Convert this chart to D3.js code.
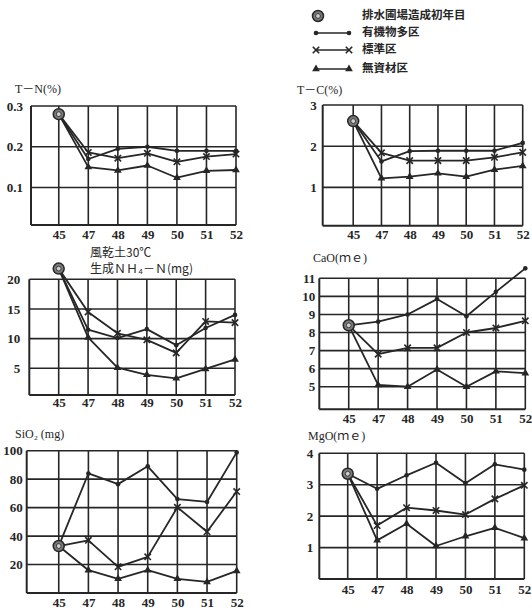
<!DOCTYPE html>
<html><head><meta charset="utf-8">
<script src="https://cdn.jsdelivr.net/npm/d3@7"></script>
<style>body{margin:0;background:#fff}svg{display:block}</style>
</head><body>
<svg id="c" width="532" height="611"></svg>
<script>
// ---------------- data ----------------
const years = ["45","47","48","49","50","51","52"];
const legendLabels = ["排水圃場造成初年目","有機物多区","標準区","無資材区"];

const tnOrganic  = [0.28, 0.170, 0.195, 0.200, 0.190, 0.190, 0.190];
const tnStandard = [0.28, 0.186, 0.172, 0.184, 0.163, 0.176, 0.182];
const tnNone     = [0.28, 0.150, 0.142, 0.154, 0.124, 0.141, 0.143];
const tnTicks = [0.1, 0.2, 0.3];

const tcOrganic  = [2.61, 1.63, 1.88, 1.89, 1.89, 1.89, 2.08];
const tcStandard = [2.61, 1.84, 1.65, 1.65, 1.65, 1.73, 1.85];
const tcNone     = [2.61, 1.22, 1.26, 1.34, 1.26, 1.43, 1.52];
const tcTicks = [1, 2, 3];

const nhOrganic  = [21.8, 11.5, 10.1, 11.6, 8.9, 11.8, 14.0];
const nhStandard = [21.8, 14.5, 10.9, 9.8, 7.6, 12.9, 12.7];
const nhNone     = [21.8, 10.2, 5.1, 3.9, 3.3, 4.9, 6.5];
const nhTicks = [5, 10, 15, 20];

const caOrganic  = [8.4, 8.6, 9.0, 9.85, 8.9, 10.25, 11.55];
const caStandard = [8.4, 6.8, 7.15, 7.15, 8.0, 8.25, 8.65];
const caNone     = [8.4, 5.1, 5.0, 5.95, 5.0, 5.85, 5.75];
const caTicks = [5, 6, 7, 8, 9, 10, 11];

const siOrganic  = [33, 84, 76.5, 89, 66, 64, 98.8];
const siStandard = [33, 37, 18.4, 25.4, 60.2, 43, 71.3];
const siNone     = [33, 16, 10, 16, 10, 7.8, 15.5];
const siTicks = [20, 40, 60, 80, 100];

const mgOrganic  = [3.35, 2.87, 3.3, 3.7, 3.05, 3.65, 3.48];
const mgStandard = [3.35, 1.7, 2.27, 2.18, 2.05, 2.55, 2.98];
const mgNone     = [3.35, 1.23, 1.76, 1.05, 1.36, 1.63, 1.3];
const mgTicks = [1, 2, 3, 4];

// ---------------- layout ----------------
const ink = "#262626";
const numFont = "'Liberation Serif','DejaVu Serif',serif";
const titleFont = "'Liberation Serif','Noto Sans CJK JP',serif";
const cjkFont = "'Noto Sans CJK JP','Noto Sans CJK SC',sans-serif";
const svg = d3.select("#c");

const panels = [
  {title:[{t:"T－N(%)", x:15, y:90, f:titleFont}], data:[tnOrganic,tnStandard,tnNone], ticks:tnTicks, fmt:d3.format(".1f"),
   left:31, right:236, top:106, bottom:225, off:0.94, y0:0.008, y1:0.3, pad:8, xpad:5},
  {title:[{t:"T－C(%)", x:297, y:91, f:titleFont}], data:[tcOrganic,tcStandard,tcNone], ticks:tcTicks, fmt:d3.format("d"),
   left:322.7, right:522.7, top:105, bottom:225.7, off:1.08, y0:0.07, y1:3, pad:6, xpad:4},
  {title:[{t:"風乾土30℃", x:90, y:254, f:cjkFont},{t:"生成ＮＨ₄－Ｎ(mg)", x:90, y:270, f:cjkFont}], data:[nhOrganic,nhStandard,nhNone], ticks:nhTicks, fmt:d3.format("d"),
   left:29.3, right:235, top:279.3, bottom:395, off:1.0, y0:0.5, y1:20, pad:9, xpad:3},
  {title:[{t:"CaO(ｍｅ)", x:313, y:259, f:titleFont}], data:[caOrganic,caStandard,caNone], ticks:caTicks, fmt:d3.format("d"),
   left:319.3, right:525.3, top:278.3, bottom:409.3, off:1.0, y0:3.75, y1:11, pad:4, xpad:4},
  {title:[{t:"SiO₂ (mg)", x:15, y:435, f:titleFont}], data:[siOrganic,siStandard,siNone], ticks:siTicks, fmt:d3.format("d"),
   left:26.7, right:236.7, top:450.7, bottom:593, off:1.08, y0:0, y1:100, pad:4, xpad:5},
  {title:[{t:"MgO(ｍｅ)", x:308, y:437, f:titleFont}], data:[mgOrganic,mgStandard,mgNone], ticks:mgTicks, fmt:d3.format("d"),
   left:319.3, right:524.3, top:453.3, bottom:579, off:0.965, y0:0, y1:4, pad:6, xpad:6}
];

const crossPath = s => `M${-s},${-s}L${s},${s}M${-s},${s}L${s},${-s}`;

function drawMarker(g, kind, x, y) {
  if (kind === 0) {
    g.append("circle").attr("cx", x).attr("cy", y).attr("r", 2.3).attr("fill", ink);
  } else if (kind === 1) {
    g.append("path").attr("d", crossPath(3.2)).attr("transform", `translate(${x},${y})`)
      .attr("stroke", ink).attr("stroke-width", 1.6).attr("fill", "none");
  } else if (kind === 2) {
    g.append("path").attr("d", d3.symbol(d3.symbolTriangle, 26)()).attr("transform", `translate(${x},${y})`)
      .attr("fill", ink);
  } else {
    g.append("circle").attr("cx", x).attr("cy", y).attr("r", 5.5).attr("fill", "#7a7a7a").attr("stroke", ink).attr("stroke-width", 1.5);
    g.append("circle").attr("cx", x).attr("cy", y).attr("r", 2.4).attr("fill", "#cfcfcf").attr("stroke", ink).attr("stroke-width", 0.8);
  }
}

panels.forEach(p => {
  const g = svg.append("g");
  const idx = d3.range(years.length);
  const xs = d3.scaleLinear().domain([-p.off, years.length - 1]).range([p.left, p.right]);
  const ys = d3.scaleLinear().domain([p.y0, p.y1]).range([p.bottom, p.top]);

  // grid
  g.selectAll(".hg").data(p.ticks).join("line")
    .attr("x1", p.left).attr("x2", p.right).attr("y1", d => ys(d)).attr("y2", d => ys(d))
    .attr("stroke", ink).attr("stroke-width", 1.6);
  g.selectAll(".vg").data(idx).join("line")
    .attr("x1", d => xs(d)).attr("x2", d => xs(d)).attr("y1", p.top).attr("y2", p.bottom)
    .attr("stroke", ink).attr("stroke-width", 1.6);
  // frame
  g.append("line").attr("x1", p.left).attr("x2", p.left).attr("y1", p.top).attr("y2", p.bottom)
    .attr("stroke", ink).attr("stroke-width", 2);
  g.append("line").attr("x1", p.left).attr("x2", p.right).attr("y1", p.bottom).attr("y2", p.bottom)
    .attr("stroke", ink).attr("stroke-width", 2);

  // axes
  const ya = g.append("g").attr("transform", `translate(${p.left},0)`)
    .call(d3.axisLeft(ys).tickValues(p.ticks).tickSize(0).tickPadding(p.pad).tickFormat(p.fmt));
  ya.select(".domain").remove();
  ya.selectAll("text").attr("font-family", numFont).attr("font-weight", "bold").attr("font-size", 13).attr("fill", ink);

  const xa = g.append("g").attr("transform", `translate(0,${p.bottom})`)
    .call(d3.axisBottom(xs).tickValues(idx).tickSize(0).tickPadding(p.xpad).tickFormat(i => years[i]));
  xa.select(".domain").remove();
  xa.selectAll("text").attr("font-family", numFont).attr("font-weight", "bold").attr("font-size", 13).attr("fill", ink);

  // titles
  p.title.forEach(t => {
    g.append("text").attr("x", t.x).attr("y", t.y).attr("dominant-baseline", "middle")
      .attr("font-family", t.f).attr("font-size", 12).attr("fill", ink).text(t.t);
  });

  // series
  const line = d3.line().x((d, i) => xs(i)).y(d => ys(d));
  p.data.forEach((s, k) => {
    g.append("path").datum(s).attr("d", line).attr("fill", "none")
      .attr("stroke", ink).attr("stroke-width", 1.8).attr("stroke-linejoin", "round");
    s.forEach((v, i) => { if (i > 0) drawMarker(g, k, xs(i), ys(v)); });
  });
  drawMarker(g, 3, xs(0), ys(p.data[0][0]));
});

// legend
const lg = svg.append("g");
const legY = [16, 33, 50, 69];
drawMarker(lg, 3, 318, legY[0]);
[0, 1, 2].forEach(k => {
  lg.append("line").attr("x1", 316).attr("x2", 349).attr("y1", legY[k+1]).attr("y2", legY[k+1])
    .attr("stroke", ink).attr("stroke-width", 1.4);
  drawMarker(lg, k, 316, legY[k+1]);
  drawMarker(lg, k, 349, legY[k+1]);
});
legendLabels.forEach((t, i) => {
  lg.append("text").attr("x", 362).attr("y", legY[i]).attr("dominant-baseline", "middle")
    .attr("font-family", cjkFont).attr("font-weight", "bold").attr("font-size", 11.5).attr("fill", ink).text(t);
});
</script>
</body></html>
